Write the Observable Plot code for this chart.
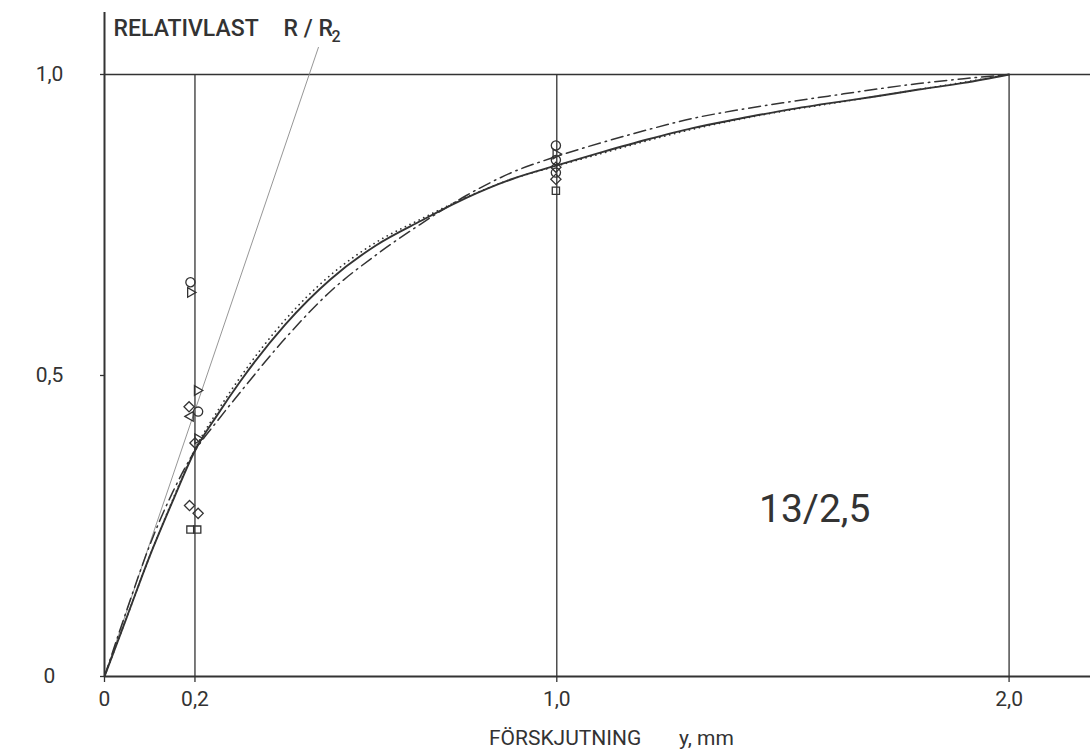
<!DOCTYPE html>
<html><head><meta charset="utf-8">
<script src="https://cdn.jsdelivr.net/npm/d3@7"></script>
<script src="https://cdn.jsdelivr.net/npm/@observablehq/plot@0.6"></script>
<style>
html,body{margin:0;padding:0;background:#fff;}
#chart svg{display:block;}
</style></head><body><div id="chart"></div>
<script>
// Curves: relative load R/R2 versus displacement y (mm)
const curveX   = [0,0.05,0.1,0.15,0.2,0.25,0.3,0.4,0.5,0.6,0.7,0.8,0.9,1.0,1.1,1.2,1.3,1.4,1.5,1.6,1.7,1.8,1.9,2.0];
const solidY   = [0,0.100,0.200,0.290,0.375,0.435,0.490,0.585,0.660,0.716,0.757,0.795,0.826,0.849,0.871,0.892,0.911,0.926,0.940,0.952,0.963,0.975,0.986,1.0];
const dottedY  = [0,0.100,0.200,0.292,0.378,0.441,0.497,0.593,0.667,0.721,0.760,0.796,0.826,0.848,0.869,0.890,0.909,0.925,0.939,0.951,0.963,0.975,0.987,1.0];
const dashDotY = [0,0.112,0.218,0.305,0.375,0.425,0.472,0.562,0.640,0.700,0.752,0.799,0.837,0.864,0.887,0.908,0.927,0.941,0.953,0.964,0.975,0.985,0.993,1.0];

// Initial tangent line
const tangentX = [0, 0.473];
const tangentY = [0, 1.045];

// Measured points
const ptX     = [0.19,0.19,0.205,0.187,0.207,0.19,0.2,0.206,0.188,0.207,0.19,0.205, 0.998,0.998,0.998,0.998,0.998,0.998,0.998];
const ptY     = [0.655,0.638,0.475,0.448,0.440,0.432,0.388,0.395,0.284,0.271,0.244,0.244, 0.882,0.868,0.858,0.846,0.837,0.826,0.807];
const ptShape = ["circle","triangle2","triangle2","diamond2","circle","triangle2","diamond2","triangle2","diamond2","diamond2","square2","square2","circle","triangle2","circle","diamond2","circle","diamond2","square2"];
const ptRot   = [0,90,90,0,0,-90,0,90,0,0,0,0,0,90,0,0,0,0,0];

// Ticks
const xTicks = [0,0.2,1.0,2.0];
const xTickLabels = ["0","0,2","1,0","2,0"];
const yTicks = [0,0.5,1.0];
const yTickLabels = ["0","0,5","1,0"];
const gridX = [0.2,1.0,2.0];

const mk = (xs, ys) => xs.map((x,i) => ({x, y: ys[i]}));
const solid = mk(curveX, solidY);
const dotted = mk(curveX, dottedY);
const dashDot = mk(curveX, dashDotY);
const tangent = mk(tangentX, tangentY);
const points = ptX.map((x,i) => ({x, y: ptY[i], s: ptShape[i], r: ptRot[i]}));

const ink = "#333";
const plot = Plot.plot({
  width: 1090, height: 755,
  marginLeft: 104, marginRight: 0, marginTop: 0, marginBottom: 79,
  x: {domain: [0, 2.18]},
  y: {domain: [0, 1.1229]},
  style: {fontFamily: "Roboto, sans-serif", fontSize: "21px", color: ink, background: "#fff", overflow: "visible"},
  marks: [
    // grid
    Plot.ruleY([1], {x1: 0, x2: 2.18, stroke: ink, strokeWidth: 1.3}),
    Plot.ruleX(gridX, {y1: 0, y2: 1, stroke: ink, strokeWidth: 1.3}),
    // axes
    Plot.ruleX([0], {y1: 0, y2: 1.103, stroke: ink, strokeWidth: 2}),
    Plot.ruleY([0], {x1: 0, x2: 2.18, stroke: ink, strokeWidth: 2}),
    Plot.axisX({ticks: xTicks, tickFormat: d => xTickLabels[xTicks.indexOf(d)], tickSize: 6, tickPadding: 9, stroke: ink, strokeWidth: 1.3, label: null}),
    Plot.axisY({ticks: yTicks, tickFormat: d => yTickLabels[yTicks.indexOf(d)], tickSize: 4, tickPadding: 51, textAnchor: "middle", stroke: ink, strokeWidth: 1.3, label: null}),
    // tangent
    Plot.line(tangent, {x: "x", y: "y", stroke: "#8a8a8a", strokeWidth: 0.9}),
    // curves
    Plot.line(dashDot, {x: "x", y: "y", curve: "monotone-x", stroke: ink, strokeWidth: 1.5, strokeDasharray: "12,5,1.5,5"}),
    Plot.line(dotted, {x: "x", y: "y", curve: "monotone-x", stroke: ink, strokeWidth: 1.7, strokeDasharray: "0.1,5", strokeLinecap: "round"}),
    Plot.line(solid, {x: "x", y: "y", curve: "monotone-x", stroke: ink, strokeWidth: 1.9}),
    // points
    Plot.dot(points, {x: "x", y: "y", symbol: "s", rotate: "r", r: 4.6, stroke: ink, strokeWidth: 1.3, fill: "none"}),
    // annotations
    Plot.text(["RELATIVLAST"], {x: 0.02, y: 1.076, text: d => d, textAnchor: "start", fontSize: 23, fontWeight: 500, fill: ink}),
    Plot.text(["R / R"], {x: 0.396, y: 1.076, text: d => d, textAnchor: "start", fontSize: 23, fontWeight: 500, fill: ink}),
    Plot.text(["2"], {x: 0.502, y: 1.062, text: d => d, textAnchor: "start", fontSize: 16, fontWeight: 500, fill: ink}),
    Plot.text(["13/2,5"], {x: 1.447, y: 0.277, text: d => d, textAnchor: "start", fontSize: 39, fill: ink}),
    Plot.text(["FÖRSKJUTNING"], {x: 0.85, y: -0.103, text: d => d, textAnchor: "start", fontSize: 21, fill: ink}),
    Plot.text(["y, mm"], {x: 1.27, y: -0.103, text: d => d, textAnchor: "start", fontSize: 21, fill: ink})
  ]
});
document.getElementById("chart").appendChild(plot);
</script>
</body></html>
